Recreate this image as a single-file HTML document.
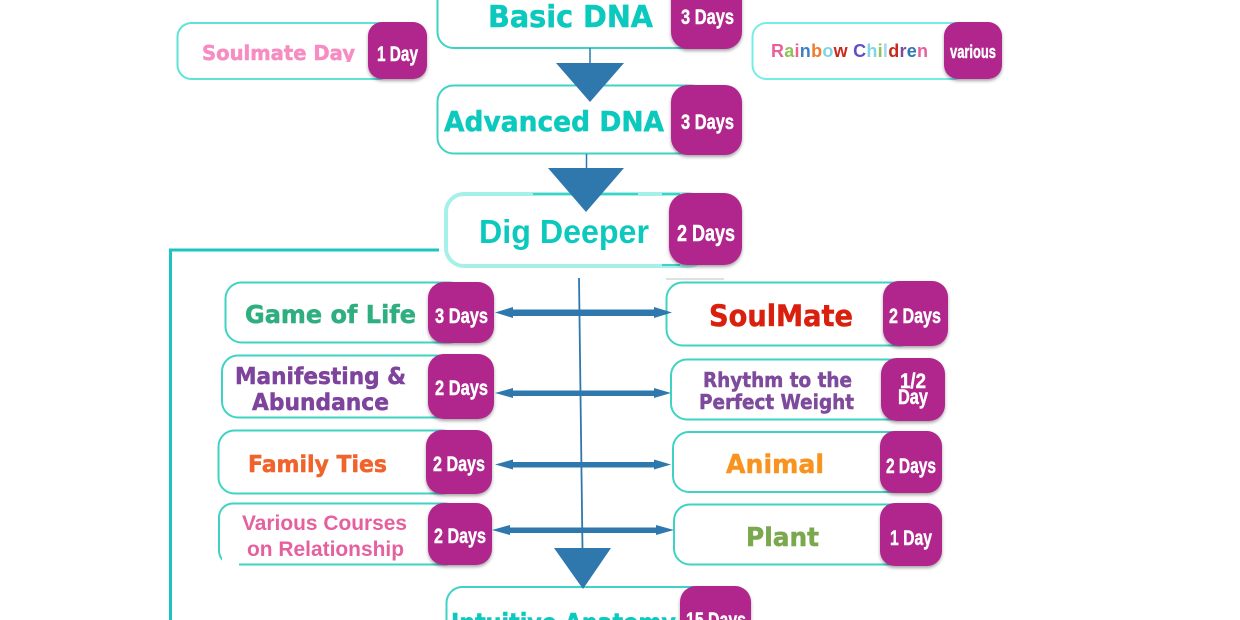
<!DOCTYPE html>
<html>
<head>
<meta charset="utf-8">
<style>
html,body{margin:0;padding:0;background:#fff;width:1240px;height:620px;overflow:hidden}
svg{display:block}
.b{font-family:"DejaVu Sans",sans-serif;font-weight:700;fill:currentColor;stroke:currentColor;stroke-width:.5}
.s{font-family:"Liberation Sans",sans-serif;font-weight:700}
.d{font-family:"Liberation Sans",sans-serif;font-weight:700;fill:#fff;stroke:#fff;stroke-width:.45}
.box{fill:#fff;stroke:#3ed3c4;stroke-width:2}
.badge{fill:#b0258c;filter:url(#sh)}
.ar{fill:#2f78ad}
</style>
</head>
<body>
<svg width="1240" height="620" viewBox="0 0 1240 620" xmlns="http://www.w3.org/2000/svg">
<defs>
<filter id="sh" x="-20%" y="-20%" width="140%" height="140%"><feDropShadow dx="0" dy="2" stdDeviation="1.5" flood-color="#000" flood-opacity=".35"/></filter>
</defs>

<!-- teal connector -->
<path d="M439 250H170.500V620" fill="none" stroke="#1cc4c0" stroke-width="3"/>

<!-- boxes -->
<rect class="box" x="437.500" y="-30" width="280" height="78" rx="16"/>
<rect class="box" x="177.500" y="23" width="215" height="56" rx="14" style="stroke:#5fe3d8"/>
<rect class="box" x="752.500" y="23" width="215" height="56" rx="14" style="stroke:#76ece6"/>
<rect class="box" x="437.500" y="85.500" width="270" height="68" rx="16"/>
<rect class="box" x="446" y="194" width="260" height="72" rx="18" style="stroke:#a5f0e8;stroke-width:4"/>
<path d="M533 194H638M662 194H680M662 265H680" stroke="#3ed3c4" stroke-width="2" fill="none"/>
<rect class="box" x="225.500" y="282.500" width="240" height="60" rx="16"/>
<rect class="box" x="222" y="355.500" width="240" height="62" rx="16"/>
<rect class="box" x="218.500" y="430.500" width="240" height="63" rx="16"/>
<rect class="box" x="219" y="503.500" width="240" height="61" rx="14"/>
<rect x="222" y="558" width="17" height="9" fill="#fff"/>
<rect class="box" x="666.500" y="282.500" width="250" height="63" rx="16"/>
<rect class="box" x="671" y="359.500" width="240" height="60" rx="16"/>
<rect class="box" x="673" y="432" width="240" height="60" rx="16"/>
<rect class="box" x="674" y="504.500" width="240" height="60" rx="16"/>
<rect class="box" x="446.500" y="587" width="270" height="60" rx="16"/>
<path d="M666 279H724" stroke="#bbb" stroke-width="1.500" opacity=".6"/>

<!-- center lines -->
<path d="M590 48V64M586.500 154V169" stroke="#2f78ad" stroke-width="1.500"/>
<path d="M579 278L582.500 550" stroke="#2f78ad" stroke-width="1.800"/>

<!-- triangles -->
<path class="ar" d="M556 63H624L590 102Z"/>
<path class="ar" d="M548 168H624L586 212Z"/>
<path class="ar" d="M554 548H611L583 589Z"/>

<!-- double arrows -->
<g class="ar">
<path d="M495 312.500L513 307V309.500H654V307L672 312.500L654 318V316H513V318Z"/>
<path d="M495 393L513 388V390.500H654V388L671 393L654 398V396H513V398Z"/>
<path d="M495 464.500L513 459.500V462H654V459.500L671 464.500L654 469.500V467.500H513V469.500Z"/>
<path d="M492 530L510 525V527.500H656V525L674 530L656 535V533H510V535Z"/>
</g>

<!-- badges -->
<rect class="badge" x="671" y="-30" width="71" height="79" rx="17"/>
<rect class="badge" x="368" y="22" width="59" height="57" rx="14"/>
<rect class="badge" x="944" y="22" width="58" height="57" rx="14"/>
<rect class="badge" x="671" y="85" width="71" height="70" rx="17"/>
<rect class="badge" x="669" y="193" width="73" height="72" rx="18"/>
<rect class="badge" x="428" y="282" width="66" height="61" rx="16"/>
<rect class="badge" x="428" y="354" width="66" height="65" rx="16"/>
<rect class="badge" x="426" y="430" width="66" height="64" rx="16"/>
<rect class="badge" x="428" y="503" width="64" height="62" rx="16"/>
<rect class="badge" x="883" y="281" width="65" height="65" rx="16"/>
<rect class="badge" x="881" y="358" width="64" height="63" rx="16"/>
<rect class="badge" x="880" y="431" width="62" height="62" rx="15"/>
<rect class="badge" x="880" y="503" width="62" height="63" rx="15"/>
<rect class="badge" x="680" y="586" width="71" height="60" rx="16"/>

<!-- badge text -->
<g class="d" font-size="21">
<text x="681" y="24" textLength="53" lengthAdjust="spacingAndGlyphs">3 Days</text>
<text x="377" y="61" textLength="41" lengthAdjust="spacingAndGlyphs">1 Day</text>
<text x="950" y="58" textLength="46" lengthAdjust="spacingAndGlyphs" font-size="18">various</text>
<text x="681" y="129" textLength="53" lengthAdjust="spacingAndGlyphs">3 Days</text>
<text x="677" y="241" textLength="58" lengthAdjust="spacingAndGlyphs" font-size="23">2 Days</text>
<text x="435" y="323" textLength="53" lengthAdjust="spacingAndGlyphs">3 Days</text>
<text x="435" y="395" textLength="53" lengthAdjust="spacingAndGlyphs">2 Days</text>
<text x="433" y="471" textLength="52" lengthAdjust="spacingAndGlyphs">2 Days</text>
<text x="434" y="543" textLength="52" lengthAdjust="spacingAndGlyphs">2 Days</text>
<text x="889" y="323" textLength="52" lengthAdjust="spacingAndGlyphs">2 Days</text>
<text x="900" y="388" textLength="26" lengthAdjust="spacingAndGlyphs">1/2</text>
<text x="898" y="404" textLength="30" lengthAdjust="spacingAndGlyphs">Day</text>
<text x="886" y="473" textLength="50" lengthAdjust="spacingAndGlyphs">2 Days</text>
<text x="890" y="545" textLength="42" lengthAdjust="spacingAndGlyphs">1 Day</text>
<text x="686" y="627" textLength="60" lengthAdjust="spacingAndGlyphs">15 Days</text>
</g>

<!-- titles -->
<text class="b" x="488" y="27" font-size="30" color="#0cc9be" textLength="165" lengthAdjust="spacingAndGlyphs">Basic DNA</text>
<text class="b" x="444" y="131" font-size="28" color="#0cc9be" textLength="220" lengthAdjust="spacingAndGlyphs">Advanced DNA</text>
<text class="s" x="479" y="243" font-size="33" fill="#0cc9be" textLength="170" lengthAdjust="spacingAndGlyphs">Dig Deeper</text>
<text class="b" x="451" y="631" font-size="25" color="#0cc9be" textLength="225" lengthAdjust="spacingAndGlyphs">Intuitive Anatomy</text>

<text class="b" x="202" y="60" font-size="20.500" color="#f68cc2" textLength="153" lengthAdjust="spacingAndGlyphs">Soulmate Day</text>
<rect x="200" y="62" width="160" height="6" fill="#fff"/>

<text class="s" x="771" y="57" font-size="18" textLength="157" lengthAdjust="spacing"><tspan fill="#e8609c">R</tspan><tspan fill="#8fc25a">a</tspan><tspan fill="#e8609c">i</tspan><tspan fill="#3f7fc8">n</tspan><tspan fill="#ef7b2c">b</tspan><tspan fill="#7fd5e5">o</tspan><tspan fill="#c92a1e">w</tspan><tspan> </tspan><tspan fill="#5f4fc8">C</tspan><tspan fill="#7fd5e5">h</tspan><tspan fill="#8fc25a">i</tspan><tspan fill="#a0d8e8">l</tspan><tspan fill="#c92a1e">d</tspan><tspan fill="#7d4a9c">r</tspan><tspan fill="#2b78b5">e</tspan><tspan fill="#e8609c">n</tspan></text>

<text class="b" x="245" y="323" font-size="25" color="#2fae80" textLength="171" lengthAdjust="spacingAndGlyphs">Game of Life</text>
<text class="b" x="235" y="384" font-size="23" color="#7e439c" textLength="171" lengthAdjust="spacingAndGlyphs">Manifesting &amp;</text>
<text class="b" x="252" y="410" font-size="23" color="#7e439c" textLength="137" lengthAdjust="spacingAndGlyphs">Abundance</text>
<text class="b" x="248" y="472" font-size="23" color="#f0642c" textLength="139" lengthAdjust="spacingAndGlyphs">Family Ties</text>
<text class="s" x="242" y="530" font-size="21" fill="#e5609e" textLength="165" lengthAdjust="spacingAndGlyphs">Various Courses</text>
<text class="s" x="247" y="556" font-size="21" fill="#e5609e" textLength="157" lengthAdjust="spacingAndGlyphs">on Relationship</text>

<text class="b" x="709" y="326" font-size="29" color="#d9200f" textLength="144" lengthAdjust="spacingAndGlyphs">SoulMate</text>
<text class="b" x="703" y="387" font-size="20" color="#7e4a9c" textLength="149" lengthAdjust="spacingAndGlyphs">Rhythm to the</text>
<text class="b" x="699" y="409" font-size="20" color="#7e4a9c" textLength="155" lengthAdjust="spacingAndGlyphs">Perfect Weight</text>
<text class="b" x="726" y="473" font-size="26" color="#f7931e" textLength="98" lengthAdjust="spacingAndGlyphs">Animal</text>
<text class="b" x="746" y="546" font-size="26" color="#7ba84e" textLength="73" lengthAdjust="spacingAndGlyphs">Plant</text>
</svg>
</body>
</html>
